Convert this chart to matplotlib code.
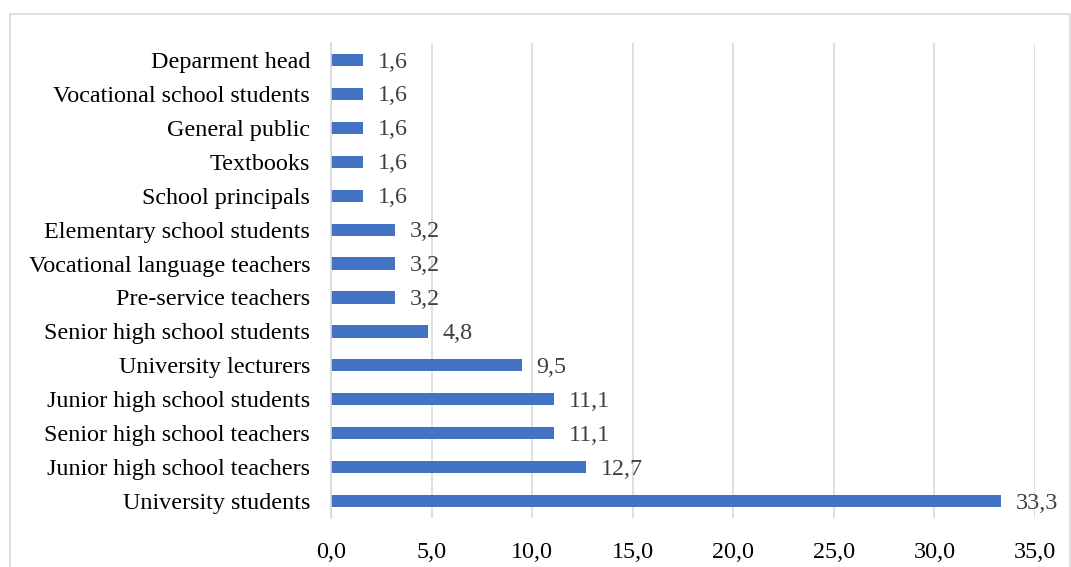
import matplotlib
matplotlib.use("Agg")
import matplotlib.pyplot as plt
from matplotlib.patches import Rectangle

categories = ["University students", "Junior high school teachers", "Senior high school teachers",
              "Junior high school students", "University lecturers", "Senior high school students",
              "Pre-service teachers", "Vocational language teachers", "Elementary school students",
              "School principals", "Textbooks", "General public", "Vocational school students",
              "Deparment head"]
values = [33.3, 12.7, 11.1, 11.1, 9.5, 4.8, 3.2, 3.2, 3.2, 1.6, 1.6, 1.6, 1.6, 1.6]
xticks = [0, 5, 10, 15, 20, 25, 30, 35]

plt.rcParams['font.family'] = ['Liberation Serif', 'DejaVu Serif']
FS = 17.4
W, H = 1071, 567
fig = plt.figure(figsize=(W/100, H/100), dpi=100)
fig.add_artist(Rectangle((10/W, -0.1), (1060)/W, (H-14)/H + 0.1, transform=fig.transFigure,
                         fill=False, edgecolor='#D9D9D9', lw=1.2))
ax = fig.add_axes([331/W, 1-518/H, (1035-331)/W, (518-43)/H])
y = range(len(categories))
ax.barh(y, values, height=0.36, color='#4472C4', zorder=3)
for yi, v in zip(y, values):
    ax.text(v + 0.72, yi - 0.06, f"{v:.1f}".replace('.', ','), va='center', ha='left',
            fontsize=FS, color='#404040')
ax.set_ylim(-0.5, len(categories) - 0.5)
ax.set_xlim(0, 35)
ax.set_xticks(xticks)
ax.set_xticklabels([f"{t:.1f}".replace('.', ',') for t in xticks], fontsize=FS)
ax.set_yticks(list(y))
ax.set_yticklabels(categories, fontsize=FS)
ax.tick_params(length=0, pad=15)
ax.tick_params(axis='x', pad=17)
ax.grid(axis='x', color='#D9D9D9', lw=1.2, zorder=0)
for s in ['top', 'right', 'bottom']:
    ax.spines[s].set_visible(False)
ax.spines['left'].set_color('#D9D9D9')
ax.spines['left'].set_linewidth(1.2)
ax.spines['left'].set_zorder(4)
fig.savefig("out.png", dpi=100)
